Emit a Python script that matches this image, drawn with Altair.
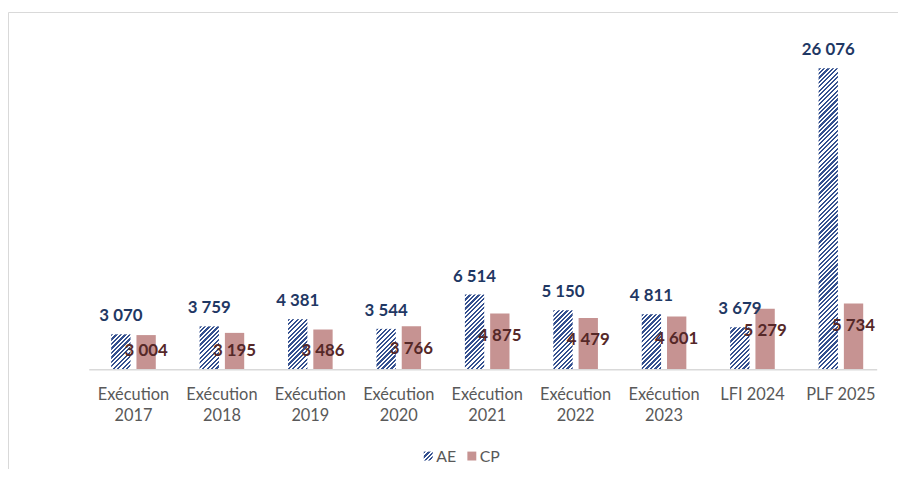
import math
import altair as alt
import pandas as pd

categories = ["Exécution 2017", "Exécution 2018", "Exécution 2019", "Exécution 2020",
              "Exécution 2021", "Exécution 2022", "Exécution 2023", "LFI 2024", "PLF 2025"]
ae_values = [3070, 3759, 4381, 3544, 6514, 5150, 4811, 3679, 26076]
cp_values = [3004, 3195, 3486, 3766, 4875, 4479, 4601, 5279, 5734]
series = ["AE", "CP"]

def fmt(v):
    return f"{v:,}".replace(",", " ")

df = pd.DataFrame({
    "cat": categories,
    "AE": ae_values,
    "CP": cp_values,
    "AE_lab": [fmt(v) for v in ae_values],
    "CP_lab": [fmt(v) for v in cp_values],
})

W, H = 803, 350
YMAX = 30000
BW = 19.5
OFF = 12.75
AE_COL = "#34508F"
CP_COL = "#C69392"
FONT = "Lato"


def hatch(w, h, period=4.5, frac=0.5, col=AE_COL, bg="#FFFFFF"):
    a = w / h
    c = (a + 1) / (a * a + 1)
    L = w + h
    n = int(math.ceil(L / period))
    stops = []
    for k in range(n):
        s = min(k * period / L, 1)
        m = min((k + frac) * period / L, 1)
        e = min((k + 1) * period / L, 1)
        stops += [{"offset": s, "color": col}, {"offset": m, "color": col},
                  {"offset": m, "color": bg}, {"offset": e, "color": bg}]
    return {"gradient": "linear", "x1": 0, "y1": 0, "x2": a * c, "y2": c, "stops": stops}


xscale = alt.Scale(domain=categories, paddingInner=0, paddingOuter=0)
yscale = alt.Scale(domain=[0, YMAX])

base = alt.Chart(df)
x_enc = alt.X("cat:N", scale=xscale, sort=categories, title=None,
              axis=alt.Axis(labelAngle=0, domain=False, ticks=False, tickSize=0, grid=False,
                            labelPadding=17, labelFont=FONT, labelFontSize=16.5,
                            labelColor="#595959", labelLineHeight=21,
                            labelExpr="indexof(datum.label, 'Exécution') == 0 ? ['Exécution', substring(datum.label, 10)] : datum.label"))

layers = []
# AE hatched bars, one layer per bar so each gets its own stripe pattern
for cat, v in zip(categories, ae_values):
    h = v * H / YMAX
    layers.append(
        base.transform_filter(alt.datum.cat == cat)
        .mark_bar(fill=hatch(BW, h), width=BW, xOffset=-OFF)
        .encode(x=x_enc, y=alt.Y("AE:Q", scale=yscale, axis=None))
    )

cp_bars = base.mark_bar(color=CP_COL, width=BW, xOffset=OFF).encode(
    x=x_enc, y=alt.Y("CP:Q", scale=yscale, axis=None))

ae_text = base.mark_text(font=FONT, fontSize=17, fontWeight="bold", color="#1F3864",
                         baseline="alphabetic", dy=-13, xOffset=-OFF).encode(
    x=x_enc, y=alt.Y("AE:Q", scale=yscale, axis=None), text="AE_lab:N")

cp_text = base.transform_calculate(
    pos="max(datum.CP - 2359, 1200)"
).mark_text(font=FONT, fontSize=17, fontWeight="bold", color="#552828",
            baseline="alphabetic", xOffset=OFF).encode(
    x=x_enc, y=alt.Y("pos:Q", scale=yscale, axis=None), text="CP_lab:N")

one = alt.Data(values=[{"k": 0}])
frame_left = alt.Chart(one).mark_rule(color="#D9D9D9", strokeWidth=1).encode(
    x=alt.value(-81.5), y=alt.value(-10.5), y2=alt.value(460))
frame_top = alt.Chart(one).mark_rule(color="#D9D9D9", strokeWidth=1).encode(
    x=alt.value(-81.5), x2=alt.value(830), y=alt.value(-10.5))
domain_line = alt.Chart(one).mark_rule(color="#D9D9D9", strokeWidth=1.5).encode(
    x=alt.value(0), x2=alt.value(795), y=alt.value(350))

leg = pd.DataFrame({"s": series})
leg_ae = alt.Chart(leg).transform_filter(alt.datum.s == "AE").mark_square(
    size=81, fill=hatch(9, 9, period=4.5), opacity=1).encode(
    x=alt.value(342), y=alt.value(437))
leg_cp = alt.Chart(leg).transform_filter(alt.datum.s == "CP").mark_square(
    size=81, color=CP_COL, opacity=1).encode(
    x=alt.value(386), y=alt.value(437))
leg_ae_t = alt.Chart(leg).transform_filter(alt.datum.s == "AE").mark_text(
    font=FONT, fontSize=16, color="#595959", align="left", baseline="alphabetic").encode(
    x=alt.value(350), y=alt.value(443), text="s:N")
leg_cp_t = alt.Chart(leg).transform_filter(alt.datum.s == "CP").mark_text(
    font=FONT, fontSize=16, color="#595959", align="left", baseline="alphabetic").encode(
    x=alt.value(394), y=alt.value(443), text="s:N")

chart = alt.layer(
    frame_left, frame_top, *layers, cp_bars, domain_line, ae_text, cp_text,
    leg_ae, leg_cp, leg_ae_t, leg_cp_t
).properties(
    width=W, height=H,
    autosize=alt.AutoSizeParams(type="none"),
    padding={"left": 82, "top": 13, "right": 13, "bottom": 98},
    background="white",
).configure_view(stroke=None)

chart.save("out.html", embed_options={"renderer": "svg", "actions": False})
